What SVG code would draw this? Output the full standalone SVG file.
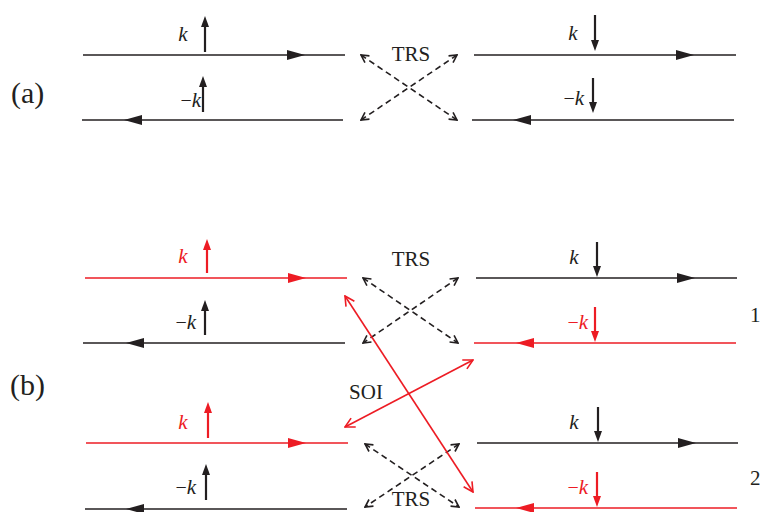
<svg xmlns="http://www.w3.org/2000/svg" width="762" height="512" viewBox="0 0 762 512">
<style>
.bg{fill:#ffffff}
.ln{stroke-width:1.7;fill:none}
.k{stroke:#231f20}
.r{stroke:#ed1c24}
.hk{fill:#231f20;stroke:none}
.hr{fill:#ed1c24;stroke:none}
.sp{stroke-width:2.2;fill:none}
.dash{stroke:#231f20;stroke-width:1.6;stroke-dasharray:6 4;fill:none;marker-start:url(#vk);marker-end:url(#vk)}
.soi{stroke:#ed1c24;stroke-width:1.6;fill:none;marker-start:url(#vr);marker-end:url(#vr)}
text{font-family:"Liberation Serif","Times New Roman",serif;fill:#231f20}
.it{font-style:italic;font-size:21px}
.mn{font-size:20px}
.lab{font-size:30px}
.t{font-size:21px}
.red{fill:#ed1c24}
</style>
<defs>
<marker id="vk" viewBox="0 0 10 10" refX="9" refY="5" markerWidth="10" markerHeight="10" markerUnits="userSpaceOnUse" orient="auto-start-reverse">
<path d="M1.5,1 L9,5 L1.5,9" fill="none" stroke="#231f20" stroke-width="1.6" stroke-dasharray="none"/>
</marker>
<marker id="vr" viewBox="0 0 12 12" refX="11" refY="6" markerWidth="12" markerHeight="12" markerUnits="userSpaceOnUse" orient="auto-start-reverse">
<path d="M1.5,1 L11,6 L1.5,11" fill="none" stroke="#ed1c24" stroke-width="1.6"/>
</marker>
</defs>
<rect class="bg" x="0" y="0" width="762" height="512"/>

<text class="lab" x="11" y="103">(a)</text>
<text class="lab" x="10" y="395">(b)</text>

<g id="a-left-top">
<line class="ln k" x1="83" y1="55" x2="345" y2="55"/>
<polygon class="hk" points="287,50 305,55 287,60"/>
<line class="sp k" x1="205" y1="52" x2="205" y2="26"/>
<polygon class="hk" points="201,27 205,16 209,27"/>
<text class="it" x="183" y="41" text-anchor="middle">k</text>
</g>
<g id="a-left-bottom">
<line class="ln k" x1="82" y1="120" x2="343" y2="120"/>
<polygon class="hk" points="142,115 124,120 142,125"/>
<line class="sp k" x1="203" y1="112" x2="203" y2="86"/>
<polygon class="hk" points="199,87 203,76 207,87"/>
<text x="201" y="107" text-anchor="end"><tspan class="mn">−</tspan><tspan class="it">k</tspan></text>
</g>
<g id="a-right-top">
<line class="ln k" x1="474" y1="55" x2="736" y2="55"/>
<polygon class="hk" points="676,50 694,55 676,60"/>
<line class="sp k" x1="595" y1="15" x2="595" y2="41"/>
<polygon class="hk" points="591,40 595,51 599,40"/>
<text class="it" x="573" y="40" text-anchor="middle">k</text>
</g>
<g id="a-right-bottom">
<line class="ln k" x1="472" y1="120" x2="734" y2="120"/>
<polygon class="hk" points="531,115 513,120 531,125"/>
<line class="sp k" x1="593" y1="78" x2="593" y2="103"/>
<polygon class="hk" points="589,102 593,113 597,102"/>
<text x="584" y="105" text-anchor="end"><tspan class="mn">−</tspan><tspan class="it">k</tspan></text>
</g>
<g id="a-trs">
<text class="t" x="411" y="61" text-anchor="middle">TRS</text>
</g>

<g id="b-left-1">
<line class="ln r" x1="85" y1="278" x2="347" y2="278"/>
<polygon class="hr" points="288,273 306,278 288,283"/>
<line class="sp r" x1="207" y1="273" x2="207" y2="249"/>
<polygon class="hr" points="203,250 207,239 211,250"/>
<text class="it red" x="183" y="263" text-anchor="middle">k</text>
</g>
<g id="b-left-2">
<line class="ln k" x1="83" y1="343" x2="345" y2="343"/>
<polygon class="hk" points="144,338 126,343 144,348"/>
<line class="sp k" x1="205" y1="335" x2="205" y2="310"/>
<polygon class="hk" points="201,311 205,300 209,311"/>
<text x="196" y="329" text-anchor="end"><tspan class="mn">−</tspan><tspan class="it">k</tspan></text>
</g>
<g id="b-right-1">
<line class="ln k" x1="476" y1="278" x2="737" y2="278"/>
<polygon class="hk" points="677,273 695,278 677,283"/>
<line class="sp k" x1="597" y1="242" x2="597" y2="267"/>
<polygon class="hk" points="593,266 597,277 601,266"/>
<text class="it" x="574" y="264" text-anchor="middle">k</text>
</g>
<g id="b-right-2">
<line class="ln r" x1="474" y1="343" x2="736" y2="343"/>
<polygon class="hr" points="534,338 516,343 534,348"/>
<line class="sp r" x1="595" y1="307" x2="595" y2="332"/>
<polygon class="hr" points="591,331 595,342 599,331"/>
<text class="red" x="588" y="329" text-anchor="end"><tspan class="mn">−</tspan><tspan class="it">k</tspan></text>
</g>
<g id="b-left-3">
<line class="ln r" x1="86" y1="443" x2="348" y2="443"/>
<polygon class="hr" points="288,438 306,443 288,448"/>
<line class="sp r" x1="208" y1="438" x2="208" y2="412"/>
<polygon class="hr" points="204,413 208,402 212,413"/>
<text class="it red" x="183" y="429" text-anchor="middle">k</text>
</g>
<g id="b-left-4">
<line class="ln k" x1="85" y1="509" x2="347" y2="509"/>
<polygon class="hk" points="144,504 126,509 144,514"/>
<line class="sp k" x1="206" y1="500" x2="206" y2="474"/>
<polygon class="hk" points="202,475 206,464 210,475"/>
<text x="196" y="494" text-anchor="end"><tspan class="mn">−</tspan><tspan class="it">k</tspan></text>
</g>
<g id="b-right-3">
<line class="ln k" x1="477" y1="443" x2="738" y2="443"/>
<polygon class="hk" points="678,438 696,443 678,448"/>
<line class="sp k" x1="598" y1="407" x2="598" y2="432"/>
<polygon class="hk" points="594,431 598,442 602,431"/>
<text class="it" x="574" y="429" text-anchor="middle">k</text>
</g>
<g id="b-right-4">
<line class="ln r" x1="475" y1="508" x2="737" y2="508"/>
<polygon class="hr" points="534,503 516,508 534,513"/>
<line class="sp r" x1="597" y1="472" x2="597" y2="497"/>
<polygon class="hr" points="593,496 597,507 601,496"/>
<text class="red" x="588" y="494" text-anchor="end"><tspan class="mn">−</tspan><tspan class="it">k</tspan></text>
</g>
<g id="b-trs-top"><text class="t" x="411" y="266" text-anchor="middle">TRS</text></g>
<g id="b-trs-bottom"><text class="t" x="411" y="506" text-anchor="middle">TRS</text></g>
<g id="b-soi"><text class="t" x="366" y="399" text-anchor="middle">SOI</text></g>
<g id="label-1"><text class="t" x="750" y="322">1</text></g>
<g id="label-2"><text class="t" x="750" y="485">2</text></g>

<g id="connectors">
<line class="dash" x1="361" y1="55" x2="457" y2="120"/>
<line class="dash" x1="457" y1="55" x2="361" y2="120"/>
<line class="dash" x1="363" y1="278" x2="458" y2="343"/>
<line class="dash" x1="458" y1="278" x2="363" y2="343"/>
<line class="dash" x1="365" y1="444" x2="459" y2="507"/>
<line class="dash" x1="459" y1="444" x2="365" y2="507"/>
<line class="soi" x1="345" y1="296" x2="473" y2="492"/>
<line class="soi" x1="473" y1="360" x2="345" y2="427"/>
</g>
</svg>
